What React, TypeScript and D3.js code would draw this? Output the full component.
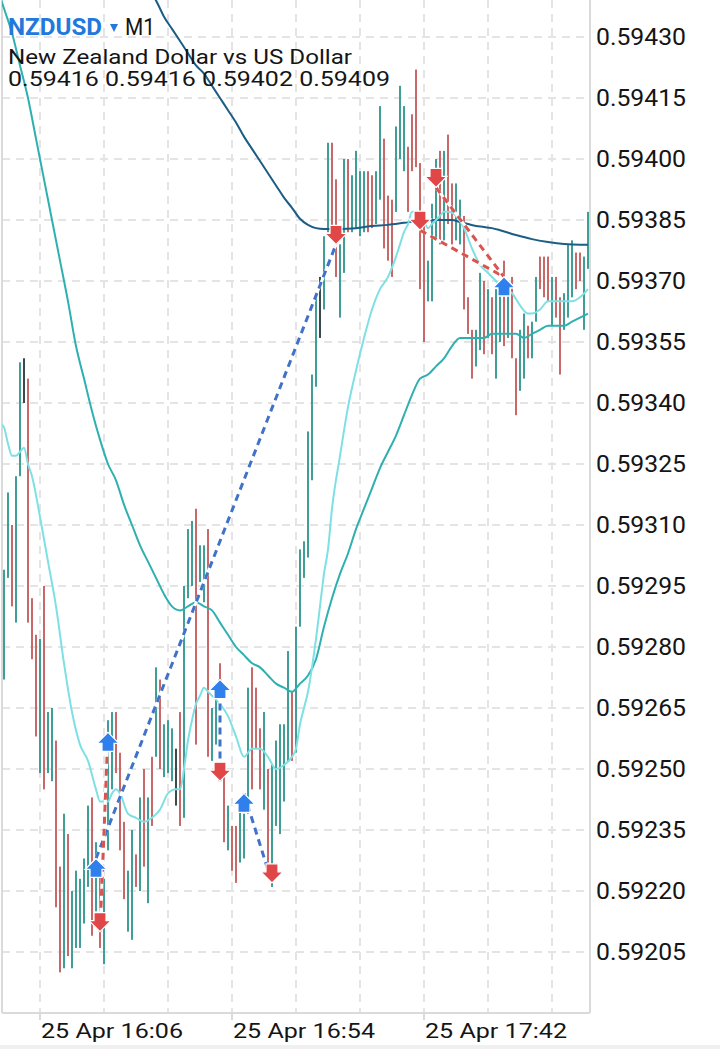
import React from "react";
import * as d3 from "d3";

const WIDTH = 720;
const HEIGHT = 1049;

const symbolName = "NZDUSD";
const timeframe = "M1";
const description = "New Zealand Dollar vs US Dollar";
const quoteLine = "0.59416 0.59416 0.59402 0.59409";

// first bar: 25 Apr 15:57, one bar per minute
const firstBarTime = new Date(2024, 3, 25, 15, 57);

const opens = [
  0.59278, 0.59299, 0.59306, 0.59292, 0.59324, 0.59345, 0.59344, 0.5929, 0.5928, 0.59256,
  0.5928, 0.59251, 0.59252, 0.59255, 0.59222, 0.59205, 0.5923, 0.59205, 0.5921, 0.59209,
  0.59215, 0.59224, 0.59238, 0.59216, 0.59222, 0.59206, 0.59233, 0.59248, 0.59261, 0.59251,
  0.59234, 0.59213, 0.59211, 0.59228, 0.59223, 0.59246, 0.59221, 0.5925, 0.59255, 0.59269,
  0.5925, 0.59251, 0.59249, 0.59249, 0.5926, 0.5924, 0.59294, 0.59298, 0.59309, 0.59298,
  0.59293, 0.59304, 0.59254, 0.59258, 0.59272, 0.59247, 0.59232, 0.59234, 0.59233, 0.59229,
  0.5923, 0.59241, 0.59268, 0.59266, 0.59258, 0.59243, 0.59247, 0.59225, 0.59239, 0.59238,
  0.59245, 0.59256, 0.59266, 0.59257, 0.59287, 0.59299, 0.59304, 0.59324, 0.59346, 0.59363,
  0.59365, 0.59384, 0.594, 0.5939, 0.59364, 0.59375, 0.59397, 0.59385, 0.59386, 0.59384,
  0.59385, 0.59394, 0.59393, 0.59386, 0.59392, 0.59402, 0.59388, 0.59386, 0.59389, 0.59402,
  0.59399, 0.594, 0.59408, 0.59416, 0.59396, 0.5938, 0.59366, 0.59368, 0.59383, 0.59398,
  0.59383, 0.59402, 0.59391, 0.59382, 0.59381, 0.59384, 0.59364, 0.59356, 0.5935, 0.59355,
  0.59367, 0.59357, 0.59364, 0.59349, 0.59357, 0.59371, 0.59358, 0.59368, 0.59349, 0.59345,
  0.59348, 0.59357, 0.59353, 0.59361, 0.59374, 0.59373, 0.59373, 0.59361, 0.59369, 0.59363,
  0.59359, 0.59363, 0.59368, 0.59375, 0.59375, 0.59361, 0.59375,
];
const highs = [
  0.59299, 0.59318, 0.5931, 0.59322, 0.5935, 0.59351, 0.59346, 0.59292, 0.59283, 0.59282,
  0.59295, 0.59264, 0.59265, 0.59257, 0.59226, 0.59239, 0.59234, 0.5922, 0.59225, 0.59223,
  0.59228, 0.59241, 0.59243, 0.59232, 0.59224, 0.59223, 0.59262, 0.59264, 0.59264, 0.59254,
  0.59237, 0.59225, 0.59235, 0.59229, 0.59243, 0.5925, 0.59243, 0.59253, 0.59275, 0.59272,
  0.59261, 0.59262, 0.5926, 0.59255, 0.59264, 0.59295, 0.59309, 0.59311, 0.59314, 0.59305,
  0.59305, 0.59309, 0.59265, 0.59271, 0.59276, 0.59249, 0.59241, 0.59236, 0.59236, 0.59242,
  0.59239, 0.5927, 0.59275, 0.5927, 0.5926, 0.59264, 0.5925, 0.59251, 0.59257, 0.59261,
  0.59261, 0.59279, 0.59269, 0.59285, 0.59304, 0.59306, 0.59333, 0.59347, 0.59366, 0.59371,
  0.59381, 0.59404, 0.59404, 0.59395, 0.59379, 0.594, 0.594, 0.59396, 0.59402, 0.59397,
  0.59397, 0.59397, 0.59396, 0.59397, 0.59413, 0.59405, 0.59391, 0.5939, 0.59408, 0.59418,
  0.59413, 0.59403, 0.59411, 0.59422, 0.59399, 0.59384, 0.59375, 0.59389, 0.594, 0.59402,
  0.59402, 0.59406, 0.59394, 0.59394, 0.5939, 0.59386, 0.59366, 0.59358, 0.59358, 0.59372,
  0.5937, 0.59368, 0.59366, 0.59368, 0.59367, 0.59375, 0.59368, 0.59371, 0.59351, 0.59358,
  0.59362, 0.59359, 0.5936, 0.59371, 0.59376, 0.59376, 0.59376, 0.59371, 0.59371, 0.59366,
  0.59367, 0.59379, 0.5938, 0.59377, 0.59377, 0.59376, 0.59387,
];
const lows = [
  0.59272, 0.59297, 0.5929, 0.59286, 0.59322, 0.5934, 0.59286, 0.59277, 0.59258, 0.59249,
  0.59245, 0.59249, 0.59247, 0.59216, 0.592, 0.59201, 0.59204, 0.59201, 0.59206, 0.59206,
  0.59212, 0.59221, 0.59209, 0.59215, 0.59206, 0.59202, 0.5923, 0.59245, 0.59249, 0.5923,
  0.59218, 0.5921, 0.59208, 0.59221, 0.5922, 0.59226, 0.59217, 0.59236, 0.59253, 0.5925,
  0.59248, 0.59249, 0.59247, 0.59241, 0.59236, 0.59238, 0.59292, 0.59295, 0.59256, 0.59296,
  0.59291, 0.59253, 0.59252, 0.59256, 0.5925, 0.59232, 0.5923, 0.59225, 0.59222, 0.59227,
  0.59228, 0.59239, 0.59245, 0.59255, 0.59245, 0.5924, 0.59227, 0.59221, 0.59236, 0.59234,
  0.59242, 0.59252, 0.59252, 0.59254, 0.59285, 0.59297, 0.59302, 0.59321, 0.59344, 0.59356,
  0.59363, 0.59382, 0.59383, 0.59371, 0.59361, 0.59372, 0.59382, 0.59382, 0.59383, 0.59381,
  0.59382, 0.59382, 0.59383, 0.59384, 0.5939, 0.59378, 0.59375, 0.59371, 0.59387, 0.594,
  0.59397, 0.59387, 0.59397, 0.59398, 0.59368, 0.59355, 0.59365, 0.59365, 0.5938, 0.59379,
  0.5938, 0.59384, 0.59379, 0.5938, 0.59379, 0.59363, 0.59357, 0.59346, 0.59349, 0.59353,
  0.59352, 0.59356, 0.59352, 0.59346, 0.59355, 0.59354, 0.59356, 0.59351, 0.59337, 0.59343,
  0.59346, 0.59351, 0.59351, 0.5936, 0.59368, 0.59366, 0.59365, 0.59359, 0.59361, 0.59347,
  0.59358, 0.59361, 0.59366, 0.59368, 0.5937, 0.59358, 0.59373,
];
const closes = [
  0.59293, 0.59313, 0.59293, 0.59318, 0.59346, 0.59345, 0.5929, 0.5928, 0.59262, 0.59278,
  0.5925, 0.59262, 0.59263, 0.5922, 0.59205, 0.59234, 0.59208, 0.59217, 0.59222, 0.5922,
  0.59225, 0.59238, 0.59212, 0.59229, 0.59208, 0.5922, 0.59258, 0.59261, 0.59251, 0.59233,
  0.59221, 0.59222, 0.59231, 0.59223, 0.5924, 0.59229, 0.5924, 0.59238, 0.59271, 0.59253,
  0.59258, 0.59259, 0.59257, 0.59249, 0.59239, 0.59291, 0.59305, 0.59308, 0.5926, 0.59303,
  0.59302, 0.59256, 0.59262, 0.59268, 0.59252, 0.59235, 0.59238, 0.59227, 0.59225, 0.59239,
  0.59237, 0.59266, 0.59248, 0.59258, 0.59248, 0.5926, 0.5923, 0.59247, 0.59254, 0.59257,
  0.59258, 0.59275, 0.59255, 0.59282, 0.59301, 0.59304, 0.59329, 0.59344, 0.59362, 0.59363,
  0.59378, 0.594, 0.59386, 0.59374, 0.59376, 0.59396, 0.59385, 0.59393, 0.59398, 0.59394,
  0.59394, 0.59385, 0.59386, 0.59394, 0.59409, 0.59381, 0.59378, 0.59374, 0.59404, 0.59415,
  0.5941, 0.5939, 0.59399, 0.59401, 0.59371, 0.59358, 0.59373, 0.59386, 0.59397, 0.59382,
  0.59399, 0.59387, 0.59382, 0.59391, 0.59388, 0.59366, 0.59359, 0.59348, 0.59356, 0.59369,
  0.59355, 0.59365, 0.59354, 0.59365, 0.59364, 0.59357, 0.59365, 0.59353, 0.5934, 0.59355,
  0.59359, 0.59353, 0.59358, 0.59369, 0.5937, 0.59368, 0.59367, 0.59369, 0.59363, 0.5935,
  0.59365, 0.59376, 0.59377, 0.5937, 0.59372, 0.59373, 0.59384,
];

// moving averages: [bar index, value]
const fastMA: [number, number][] = [
  [-1, 0.59335], [0, 0.59334], [1, 0.5933], [2, 0.59327], [3, 0.59327], [4, 0.59328], [5, 0.59329],
  [6, 0.59325], [7, 0.59322], [9, 0.59312], [11, 0.59301], [13, 0.5929], [15, 0.59276], [17, 0.59264],
  [19, 0.59256], [21, 0.59252], [23, 0.59245], [24, 0.59242], [26, 0.59242], [27, 0.59244], [28, 0.59245],
  [29, 0.59244], [31, 0.59239], [33, 0.59238], [35, 0.59237], [37, 0.59238], [39, 0.5924], [41, 0.59244],
  [43, 0.59245], [44, 0.59245], [45, 0.5925], [46, 0.59257], [47, 0.59262], [48, 0.59266], [49, 0.59268],
  [50, 0.5927], [51, 0.59269], [52, 0.59268], [54, 0.59266], [56, 0.59263], [58, 0.59258], [60, 0.59253],
  [62, 0.59255], [64, 0.59255], [66, 0.59253], [68, 0.5925], [70, 0.59251], [72, 0.59253], [73, 0.59255],
  [74, 0.59261], [75, 0.59265], [76, 0.59269], [77, 0.59275], [78, 0.59282], [79, 0.5929], [80, 0.59298],
  [81, 0.59304], [82, 0.59314], [84, 0.59327], [86, 0.59339], [88, 0.59348], [90, 0.59356], [92, 0.59363],
  [94, 0.59368], [96, 0.59371], [98, 0.59376], [99, 0.59379], [100, 0.59382], [101, 0.59384], [102, 0.59387],
  [103, 0.59387], [104, 0.59387], [105, 0.59385], [106, 0.59383], [107, 0.59384], [108, 0.59385],
  [109, 0.59386], [110, 0.59387], [111, 0.59387], [113, 0.59386], [115, 0.59383], [117, 0.59378],
  [119, 0.59374], [121, 0.59372], [123, 0.5937], [125, 0.59368], [127, 0.59367], [129, 0.59364],
  [131, 0.59362], [132, 0.59362], [134, 0.59363], [136, 0.59365], [138, 0.59365], [140, 0.59365],
  [142, 0.59365], [144, 0.59366], [146, 0.59368],
];
const mediumMA: [number, number][] = [
  [-1, 0.5944], [0, 0.59437], [2, 0.59431], [4, 0.59423], [6, 0.59415], [8, 0.59405], [10, 0.59395],
  [12, 0.59385], [14, 0.59375], [16, 0.59365], [18, 0.59354], [20, 0.59346], [22, 0.59338], [24, 0.59331],
  [26, 0.59325], [28, 0.59321], [30, 0.59315], [32, 0.5931], [34, 0.59305], [36, 0.59301], [38, 0.59297],
  [40, 0.59293], [42, 0.5929], [44, 0.59289], [46, 0.5929], [48, 0.59291], [50, 0.5929], [52, 0.59289],
  [54, 0.59286], [56, 0.59283], [58, 0.5928], [60, 0.59278], [62, 0.59276], [64, 0.59275], [66, 0.59273],
  [68, 0.59271], [70, 0.5927], [72, 0.59269], [74, 0.59271], [76, 0.59273], [78, 0.59277], [80, 0.59285],
  [82, 0.59292], [84, 0.59298], [86, 0.59303], [88, 0.59309], [90, 0.59314], [92, 0.59319], [94, 0.59324],
  [96, 0.59328], [98, 0.59332], [100, 0.59337], [102, 0.59342], [104, 0.59346], [106, 0.59347],
  [108, 0.59349], [110, 0.59351], [112, 0.59354], [114, 0.59356], [116, 0.59356], [118, 0.59356],
  [120, 0.59356], [122, 0.59357], [124, 0.59357], [126, 0.59357], [128, 0.59357], [130, 0.59356],
  [132, 0.59357], [134, 0.59358], [136, 0.59359], [138, 0.59359], [140, 0.59359], [142, 0.5936],
  [144, 0.59361], [146, 0.59362],
];
const slowMA: [number, number][] = [
  [36, 0.59442], [38, 0.59439], [40, 0.59435], [42, 0.59432], [44, 0.59429], [46, 0.59426], [48, 0.59423],
  [50, 0.59421], [52, 0.59418], [54, 0.59415], [56, 0.59412], [58, 0.59409], [60, 0.594055], [62, 0.594025],
  [64, 0.593995], [66, 0.593965], [68, 0.593935], [70, 0.593905], [72, 0.59388], [74, 0.593853],
  [76, 0.593838], [78, 0.59383], [80, 0.593828], [84, 0.593828], [88, 0.59383], [92, 0.593835],
  [96, 0.593838], [100, 0.593843], [104, 0.593848], [108, 0.59385], [112, 0.59385], [114, 0.593845],
  [116, 0.59384], [118, 0.593835], [120, 0.593833], [122, 0.59383], [124, 0.593825], [128, 0.593813],
  [132, 0.593803], [136, 0.593796], [140, 0.593791], [144, 0.593789], [146, 0.593789],
];

type Trade = { side: "buy" | "sell"; entryI: number; entryP: number; exitI: number; exitP: number };
const trades: Trade[] = [
  { side: "buy", entryI: 23, entryP: 0.59228, exitI: 83, exitP: 0.59379 },
  { side: "sell", entryI: 24, entryP: 0.5921, exitI: 26, exitP: 0.59259 },
  { side: "buy", entryI: 54, entryP: 0.59272, exitI: 54, exitP: 0.59247 },
  { side: "buy", entryI: 60, entryP: 0.59244, exitI: 67, exitP: 0.59222 },
  { side: "sell", entryI: 104, entryP: 0.593825, exitI: 125, exitP: 0.59371 },
  { side: "sell", entryI: 108, entryP: 0.59393, exitI: 125, exitP: 0.59371 },
];

const priceTicks = [
  0.5943, 0.59415, 0.594, 0.59385, 0.5937, 0.59355, 0.5934, 0.59325, 0.5931, 0.59295, 0.5928,
  0.59265, 0.5925, 0.59235, 0.5922, 0.59205,
];
const timeGridMinutes = [9, 25, 41, 57, 73, 89, 105, 121, 137]; // minutes after first bar
const timeLabels = ["25 Apr 16:06", "25 Apr 16:54", "25 Apr 17:42"];
const timeLabelMinutes = [9, 57, 105];

const COLORS = {
  up: "#3f9f97",
  down: "#c96868",
  doji: "#3b4a4c",
  fast: "#7fe0e3",
  medium: "#2eb0b0",
  slow: "#1b5d85",
  grid: "#e4e4e4",
  border: "#dadada",
  buy: "#2f7fec",
  sell: "#e24747",
  buyLine: "#3f72c8",
  sellLine: "#d9534f",
  blueText: "#2378dc",
  text: "#151515",
};

const FONT = "Roboto, 'Noto Sans', sans-serif";

export default function App() {
  const plotLeft = 2;
  const plotRight = 590;
  const plotBottom = 1013;
  const nBars = opens.length;
  const barTime = (i: number) => new Date(firstBarTime.getTime() + i * 60000);

  const x = d3.scaleTime().domain([barTime(0), barTime(nBars - 1)]).range([4, 588]);
  const y = d3.scaleLinear().domain([0.59205, 0.5943]).range([952, 37]);

  const line = d3
    .line<[number, number]>()
    .x((d) => x(barTime(d[0])))
    .y((d) => y(d[1]))
    .curve(d3.curveMonotoneX);

  const upArrow = (cx: number, cy: number) =>
    `M${cx},${cy} L${cx + 11},${cy + 11} L${cx + 6},${cy + 11} L${cx + 6},${cy + 19} L${cx - 6},${cy + 19} L${cx - 6},${cy + 11} L${cx - 11},${cy + 11} Z`;
  const downArrow = (cx: number, cy: number) =>
    `M${cx},${cy} L${cx + 11},${cy - 11} L${cx + 6},${cy - 11} L${cx + 6},${cy - 19} L${cx - 6},${cy - 19} L${cx - 6},${cy - 11} L${cx - 11},${cy - 11} Z`;

  return (
    <svg
      width={WIDTH}
      height={HEIGHT}
      style={{ position: "absolute", left: 0, top: 0, display: "block", background: "#fff" }}
      fontFamily={FONT}
    >
      <defs>
        <clipPath id="plot">
          <rect x={plotLeft} y={0} width={plotRight - plotLeft} height={plotBottom} />
        </clipPath>
      </defs>
      <rect x={0} y={0} width={WIDTH} height={HEIGHT} fill="#fff" />

      {/* grid */}
      <g stroke={COLORS.grid} strokeWidth={2} strokeDasharray="8,6">
        {priceTicks.map((p) => (
          <line key={"h" + p} x1={plotLeft} x2={plotRight} y1={y(p)} y2={y(p)} />
        ))}
        {timeGridMinutes.map((m) => (
          <line key={"v" + m} x1={x(barTime(m))} x2={x(barTime(m))} y1={0} y2={plotBottom} />
        ))}
      </g>

      {/* borders */}
      <g stroke={COLORS.border} strokeWidth={2} fill="none">
        <line x1={plotLeft} x2={plotLeft} y1={0} y2={plotBottom} />
        <line x1={plotRight} x2={plotRight} y1={0} y2={plotBottom} />
        <line x1={plotLeft} x2={plotRight} y1={plotBottom} y2={plotBottom} />
        {timeLabelMinutes.map((m) => (
          <line key={"t" + m} x1={x(barTime(m))} x2={x(barTime(m))} y1={plotBottom} y2={plotBottom + 7} />
        ))}
      </g>

      <g clipPath="url(#plot)">
        {/* candles */}
        {opens.map((o, i) => {
          const c = closes[i];
          const color = c > o ? COLORS.up : c < o ? COLORS.down : COLORS.doji;
          const cx = x(barTime(i));
          const top = Math.min(y(o), y(c));
          const bh = Math.max(1, Math.abs(y(o) - y(c)));
          return (
            <g key={i} fill={color}>
              <rect x={cx - 1} width={2} y={y(highs[i])} height={y(lows[i]) - y(highs[i])} />
              <rect x={cx - 1} width={2} y={top} height={bh} />
            </g>
          );
        })}

        {/* moving averages */}
        <path d={line(slowMA) || ""} fill="none" stroke={COLORS.slow} strokeWidth={2} />
        <path d={line(mediumMA) || ""} fill="none" stroke={COLORS.medium} strokeWidth={2} />
        <path d={line(fastMA) || ""} fill="none" stroke={COLORS.fast} strokeWidth={2} />

        {/* trade lines */}
        {trades.map((t, k) => {
          const x1 = x(barTime(t.entryI));
          const y1 = y(t.entryP);
          const x2 = x(barTime(t.exitI));
          const y2 = y(t.exitP);
          return (
            <g key={"tl" + k}>
              <line x1={x1} y1={y1} x2={x2} y2={y2} stroke="#ffffff" strokeWidth={3} />
              <line
                x1={x1}
                y1={y1}
                x2={x2}
                y2={y2}
                stroke={t.side === "buy" ? COLORS.buyLine : COLORS.sellLine}
                strokeWidth={3}
                strokeDasharray="7,5"
              />
            </g>
          );
        })}

        {/* trade arrows */}
        {trades.map((t, k) => {
          const ex = x(barTime(t.entryI));
          const ey = y(t.entryP);
          const xx = x(barTime(t.exitI));
          const xy = y(t.exitP);
          const entry =
            t.side === "buy" ? (
              <path d={upArrow(ex, ey)} fill={COLORS.buy} stroke="#fff" strokeWidth={1.2} />
            ) : (
              <path d={downArrow(ex, ey)} fill={COLORS.sell} stroke="#fff" strokeWidth={1.2} />
            );
          const exit =
            t.side === "buy" ? (
              <path d={downArrow(xx, xy)} fill={COLORS.sell} stroke="#fff" strokeWidth={1.2} />
            ) : (
              <path d={upArrow(xx, xy)} fill={COLORS.buy} stroke="#fff" strokeWidth={1.2} />
            );
          return (
            <g key={"ta" + k}>
              {entry}
              {exit}
            </g>
          );
        })}
      </g>

      {/* price axis labels */}
      {priceTicks.map((p) => (
        <text
          key={"pl" + p}
          x={596}
          y={y(p) + 8}
          fontSize={23}
          fill={COLORS.text}
          textLength={90}
          lengthAdjust="spacingAndGlyphs"
        >
          {p.toFixed(5)}
        </text>
      ))}

      {/* time axis labels */}
      {timeLabels.map((lab, k) => (
        <text
          key={lab}
          x={x(barTime(timeLabelMinutes[k])) + 1}
          y={1038}
          fontSize={21}
          fill={COLORS.text}
          textLength={142}
          lengthAdjust="spacingAndGlyphs"
        >
          {lab}
        </text>
      ))}

      {/* header */}
      <text x={8} y={35} fontSize={24} fontWeight={700} fill={COLORS.blueText} textLength={94} lengthAdjust="spacingAndGlyphs">
        {symbolName}
      </text>
      <path d="M110,24 L118,24 L114,32 Z" fill={COLORS.blueText} />
      <text x={125} y={35} fontSize={24} fill={COLORS.text} textLength={30} lengthAdjust="spacingAndGlyphs">
        {timeframe}
      </text>
      <text x={8} y={64} fontSize={20} fill={COLORS.text} textLength={344} lengthAdjust="spacingAndGlyphs">
        {description}
      </text>
      <text x={8} y={86} fontSize={21} fill={COLORS.text} textLength={382} lengthAdjust="spacingAndGlyphs">
        {quoteLine}
      </text>

      <rect x={0} y={1045} width={WIDTH} height={4} fill="#f0f0f0" />
    </svg>
  );
}
